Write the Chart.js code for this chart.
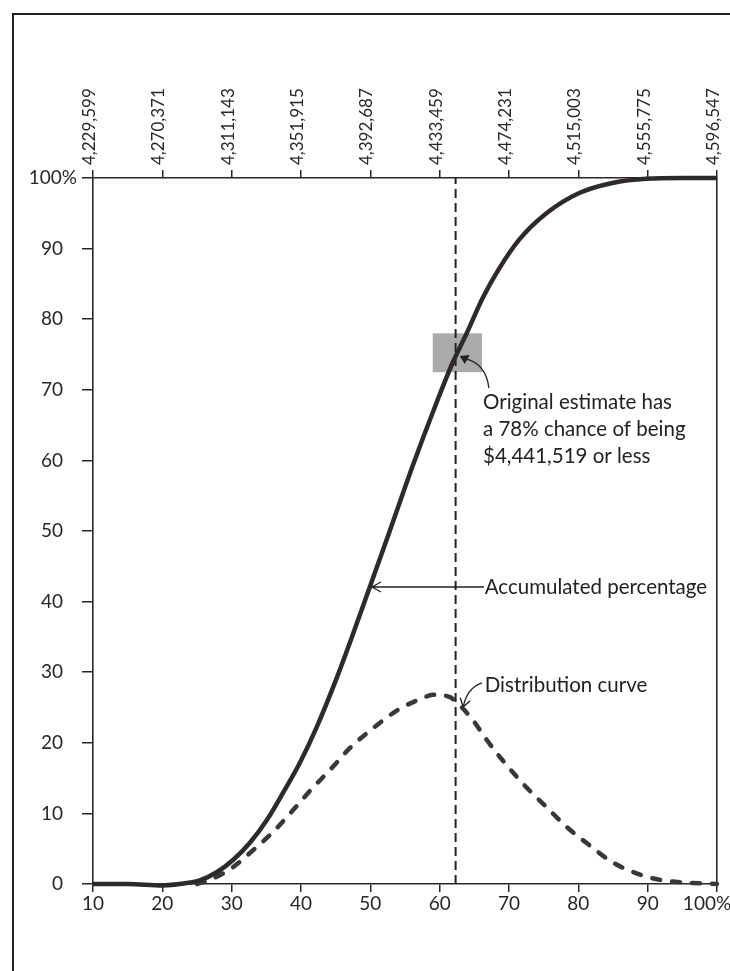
<!DOCTYPE html>
<html><head><meta charset="utf-8">
<script src="https://cdn.jsdelivr.net/npm/chart.js@4/dist/chart.umd.min.js"></script>
<style>html,body{margin:0;padding:0;background:#fff;} canvas{display:block;}</style>
</head><body>
<canvas id="c" width="730" height="971"></canvas>
<script>
// ---- data ----
const xTickValues = [10, 20, 30, 40, 50, 60, 70, 80, 90, 100];
const xTickLabels = ['10', '20', '30', '40', '50', '60', '70', '80', '90', '100%'];
const topTickLabels = ['4,229,599', '4,270,371', '4,311,143', '4,351,915', '4,392,687',
                       '4,433,459', '4,474,231', '4,515,003', '4,555,775', '4,596,547'];
const yTickValues = [0, 10, 20, 30, 40, 50, 60, 70, 80, 90, 100];
const yTickLabels = ['0', '10', '20', '30', '40', '50', '60', '70', '80', '90', '100%'];

// Accumulated percentage (solid)
const accX = [10, 15, 20, 24, 25.4, 27.9, 30.2, 32.6, 35.1, 37.4, 39.8, 42.3, 45.2, 47.5, 49.9,
              52.8, 56.1, 59.6, 61.9, 63.9, 66.2, 68.6, 71.5, 75.4, 80.2, 84.9, 89.8, 95, 100];
const accY = [0, 0, -0.2, 0.2, 0.5, 1.7, 3.4, 5.8, 9.1, 12.9, 17.1, 22.3, 29.3, 35.4, 42.0,
              50.0, 59.2, 68.3, 73.9, 78.0, 83.0, 87.2, 91.3, 95.0, 97.9, 99.3, 99.9, 100, 100];

// Distribution curve (dashed)
const distX = [25, 26.9, 30.2, 33.1, 35.9, 38.8, 41.3, 44.6, 47.0, 50.3, 54.2, 57.5, 59.0, 61.4,
               62.9, 64.8, 66.8, 69.1, 72.5, 75.4, 78.3, 81.2, 84.9, 88.4, 91.7, 95.6, 100];
const distY = [0, 0.6, 2.4, 4.8, 7.3, 10.4, 13.2, 16.6, 19.2, 22.0, 24.8, 26.3, 26.8, 26.5,
               25.3, 23.2, 20.4, 17.5, 13.7, 10.9, 8.1, 5.8, 3.1, 1.5, 0.6, 0.2, 0];

// Original estimate marker (vertical dashed line) and highlight box
const estimateX = [62.3, 62.3];
const estimateY = [0, 100];
const boxX = [59.0, 66.1];
const boxY = [72.5, 78.0];

const annotationLines = ['Original estimate has', 'a 78% chance of being', '$4,441,519 or less'];
const accLabel = 'Accumulated percentage';
const distLabel = 'Distribution curve';

// ---- styling ----
const FONT = 'Lato, "Open Sans", sans-serif';
const INK = '#2a2626';
const toPts = (xs, ys) => xs.map((x, i) => ({x, y: ys[i]}));

function nudgeLabel(scale, chart, text, dx) {
  const items = scale.getLabelItems(chart.chartArea);
  items.forEach(it => {
    if (it.label === text && !it._nudged) {
      it.options.translation[0] += dx;
      it._nudged = true;
    }
  });
}

const framePlugin = {
  id: 'frame',
  beforeDraw(chart) {
    const ctx = chart.ctx;
    ctx.save();
    ctx.fillStyle = '#fff';
    ctx.fillRect(0, 0, chart.width, chart.height);
    ctx.strokeStyle = '#222';
    ctx.lineWidth = 2;
    ctx.beginPath();
    ctx.moveTo(13, 971);
    ctx.lineTo(13, 14);
    ctx.lineTo(730, 14);
    ctx.stroke();
    ctx.restore();
    // y label "100%": digits aligned with the others, % overhanging
    nudgeLabel(chart.scales.y, chart, '100%', 14);
    // bottom "100%" kept inside the frame
    nudgeLabel(chart.scales.x, chart, '100%', -10);
  },
  beforeDatasetsDraw(chart) {
    const {ctx, scales: {x, y}} = chart;
    ctx.save();
    ctx.fillStyle = 'rgba(120,120,120,0.62)';
    const x0 = x.getPixelForValue(boxX[0]), x1 = x.getPixelForValue(boxX[1]);
    const y0 = y.getPixelForValue(boxY[1]), y1 = y.getPixelForValue(boxY[0]);
    ctx.fillRect(x0, y0, x1 - x0, y1 - y0);
    ctx.restore();
  },
  afterDatasetsDraw(chart) {
    const {ctx, scales: {x, y}} = chart;
    const P = (a, b) => [x.getPixelForValue(a), y.getPixelForValue(b)];
    ctx.save();
    ctx.fillStyle = '#222';
    ctx.strokeStyle = '#222';
    ctx.font = '20.5px ' + FONT;
    ctx.textBaseline = 'middle';
    ctx.textAlign = 'left';
    // estimate text
    const yl = [68.27, 64.45, 60.62];
    annotationLines.forEach((t, i) => {
      const [px, py] = P(66.25, yl[i]);
      ctx.fillText(t, px, py);
    });
    // accumulated label
    const [ax, ay] = P(66.5, 42.07);
    ctx.fillText(accLabel, ax, ay);
    // distribution label
    const [dx, dy] = P(66.5, 28.2);
    ctx.fillText(distLabel, dx, dy);

    ctx.lineWidth = 1.3;
    // arrow 1 (curved, filled head)
    const s1 = P(67.1, 70.25), c1 = P(66.7, 73.65), t1 = P(62.9, 74.8);
    ctx.beginPath();
    ctx.moveTo(s1[0], s1[1]);
    ctx.quadraticCurveTo(c1[0], c1[1], t1[0] + 6, t1[1] + 3);
    ctx.stroke();
    ctx.beginPath();
    ctx.moveTo(t1[0], t1[1]);
    ctx.lineTo(t1[0] + 10, t1[1] - 1);
    ctx.lineTo(t1[0] + 5, t1[1] + 8);
    ctx.closePath();
    ctx.fill();
    // arrow 2 (horizontal, open head)
    const a0 = P(66.4, 42.07), a1 = P(50.24, 42.07);
    ctx.beginPath();
    ctx.moveTo(a0[0], a0[1]);
    ctx.lineTo(a1[0], a1[1]);
    ctx.moveTo(a1[0] + 9, a1[1] - 5);
    ctx.lineTo(a1[0], a1[1]);
    ctx.lineTo(a1[0] + 9, a1[1] + 5);
    ctx.stroke();
    // arrow 3 (curved, open head)
    const s3 = P(66.1, 28.5), c3 = P(63.95, 27.8), t3 = P(63.4, 25.1);
    ctx.beginPath();
    ctx.moveTo(s3[0], s3[1]);
    ctx.quadraticCurveTo(c3[0], c3[1], t3[0], t3[1]);
    ctx.moveTo(t3[0] - 3, t3[1] - 9);
    ctx.lineTo(t3[0], t3[1]);
    ctx.lineTo(t3[0] + 7, t3[1] - 6);
    ctx.stroke();
    ctx.restore();
  }
};

const axisGrid = (len) => ({display: true, drawOnChartArea: false, drawTicks: true, tickLength: len,
                            color: INK, lineWidth: 1.5});
const axisBorder = {display: true, color: INK, width: 1.6};
const noPad = s => { s.paddingLeft = 0; s.paddingRight = 0; s.paddingTop = 0; s.paddingBottom = 0; };

new Chart(document.getElementById('c'), {
  type: 'line',
  data: {
    datasets: [
      {
        label: 'Accumulated percentage',
        data: toPts(accX, accY),
        borderColor: '#2f2a2a',
        borderWidth: 4.5,
        pointRadius: 0,
        cubicInterpolationMode: 'monotone',
        clip: false,
        xAxisID: 'x', yAxisID: 'y'
      },
      {
        label: 'Distribution curve',
        data: toPts(distX, distY),
        borderColor: '#383838',
        borderWidth: 4.5,
        borderDash: [8, 12],
        borderCapStyle: 'round',
        pointRadius: 0,
        cubicInterpolationMode: 'monotone',
        clip: false,
        xAxisID: 'x', yAxisID: 'y'
      },
      {
        label: 'Original estimate',
        data: toPts(estimateX, estimateY),
        borderColor: '#222',
        borderWidth: 2,
        borderDash: [9, 5],
        pointRadius: 0,
        clip: false,
        xAxisID: 'x', yAxisID: 'y'
      }
    ]
  },
  options: {
    responsive: false,
    animation: false,
    events: [],
    layout: {padding: 0},
    plugins: {legend: {display: false}, tooltip: {enabled: false}},
    scales: {
      x: {
        type: 'linear', position: 'bottom', min: 10, max: 100,
        afterBuildTicks: s => { s.ticks = xTickValues.map(v => ({value: v})); },
        afterFit: s => { s.height = 87; noPad(s); },
        ticks: {
          autoSkip: false, maxRotation: 0, minRotation: 0, padding: 0,
          color: INK, font: {family: FONT, size: 19},
          callback: (v) => xTickLabels[xTickValues.indexOf(v)]
        },
        grid: axisGrid(8), border: axisBorder
      },
      x2: {
        type: 'linear', position: 'top', min: 10, max: 100,
        afterBuildTicks: s => { s.ticks = xTickValues.map(v => ({value: v})); },
        afterFit: s => { s.height = 178; noPad(s); },
        ticks: {
          autoSkip: false, maxRotation: 90, minRotation: 90, padding: 5, labelOffset: 17,
          color: INK, font: {family: FONT, size: 17},
          callback: (v) => topTickLabels[xTickValues.indexOf(v)]
        },
        grid: axisGrid(8), border: axisBorder
      },
      y: {
        type: 'linear', position: 'left', min: 0, max: 100,
        afterBuildTicks: s => { s.ticks = yTickValues.map(v => ({value: v})); },
        afterFit: s => { s.width = 93; noPad(s); },
        ticks: {
          autoSkip: false, padding: 19,
          color: INK, font: {family: FONT, size: 19},
          callback: (v) => yTickLabels[yTickValues.indexOf(v)]
        },
        grid: axisGrid(11), border: axisBorder
      },
      yR: {
        type: 'linear', position: 'right', min: 0, max: 100,
        afterFit: s => { s.width = 13; noPad(s); },
        ticks: {display: false},
        grid: {display: false, drawTicks: false},
        border: axisBorder
      }
    }
  },
  plugins: [framePlugin]
});
</script>
</body></html>
